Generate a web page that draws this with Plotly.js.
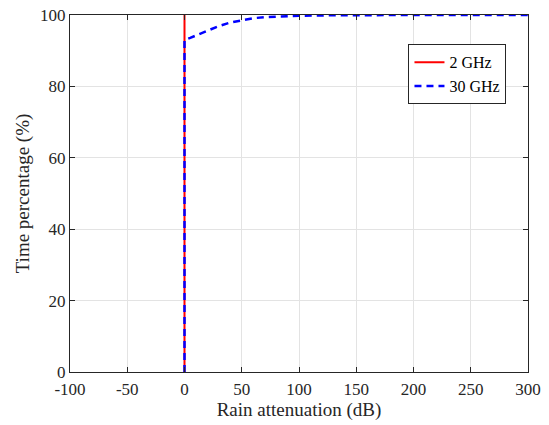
<!DOCTYPE html>
<html>
<head>
<meta charset="utf-8">
<script src="https://cdn.plot.ly/plotly-3.0.1.min.js"></script>
<style>html,body{margin:0;padding:0;background:#fff;}</style>
</head>
<body>
<div id="chart" style="width:549px;height:425px;"></div>
<script>
// 2 GHz series
const x2GHz = [0, 0];
const y2GHz = [0, 100];
// 30 GHz series
const x30GHz = [0, 0, 5, 10, 15, 20, 25, 30, 40, 50, 60, 70, 80, 100, 125, 150, 200, 250, 300];
const y30GHz = [0, 93, 93.6, 94.3, 95.0, 95.7, 96.3, 96.9, 97.9, 98.6, 99.1, 99.4, 99.6, 99.8, 99.9, 100, 100, 100, 100];
const xTicks = [-100, -50, 0, 50, 100, 150, 200, 250, 300];
const yTicks = [0, 20, 40, 60, 80, 100];

const font = {family: '"Liberation Serif", "Times New Roman", serif', color: '#262626'};
const axisCommon = {
  showline: true, mirror: 'ticks', linecolor: '#262626', linewidth: 1,
  ticks: 'inside', ticklen: 5, tickcolor: '#262626', tickwidth: 1,
  showgrid: true, gridcolor: '#e3e3e3', gridwidth: 1, zeroline: false,
  tickfont: {family: font.family, size: 17, color: '#262626'}
};
const traces = [
  {x: x2GHz, y: y2GHz, type: 'scatter', mode: 'lines', name: '2 GHz',
   line: {color: '#ff0000', width: 2}},
  {x: x30GHz, y: y30GHz, type: 'scatter', mode: 'lines', name: '30 GHz',
   line: {color: '#0000ff', width: 2.5, dash: '7px,5px'}}
];
const layout = {
  width: 549, height: 425,
  margin: {l: 70, r: 21, t: 15, b: 53},
  paper_bgcolor: '#fff', plot_bgcolor: '#fff',
  font: font,
  showlegend: true,
  legend: {x: 0.953, y: 0.918, xanchor: 'right', yanchor: 'top',
    bgcolor: '#fff', bordercolor: '#262626', borderwidth: 1,
    font: {family: font.family, size: 16, color: '#000'}, tracegroupgap: 0,
    itemwidth: 30},
  xaxis: Object.assign({}, axisCommon, {
    range: [-100, 300], tickvals: xTicks, ticktext: xTicks.map(String),
    ticklabelstandoff: 2,
    title: {text: 'Rain attenuation (dB)', font: {family: font.family, size: 19, color: '#262626'}, standoff: 4}
  }),
  yaxis: Object.assign({}, axisCommon, {
    range: [0, 100], tickvals: yTicks, ticktext: yTicks.map(String),
    title: {text: 'Time percentage (%)', font: {family: font.family, size: 19, color: '#262626'}, standoff: 5}
  })
};
Plotly.newPlot('chart', traces, layout, {displayModeBar: false, staticPlot: true});
</script>
</body>
</html>
